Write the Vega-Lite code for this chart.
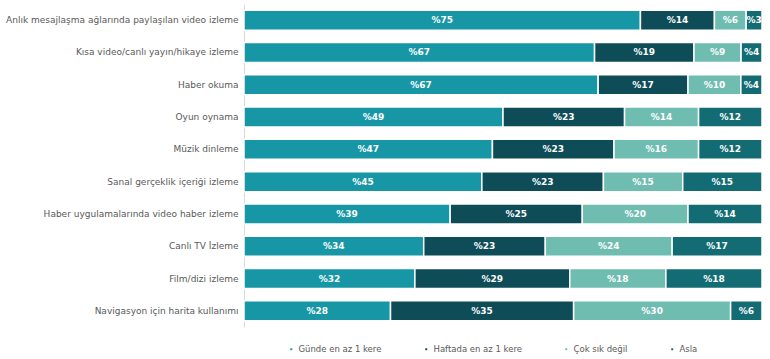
{
  "$schema": "https://vega.github.io/schema/vega-lite/v6.json",
  "autosize": "none",
  "width": 518,
  "height": 323,
  "padding": {"left": 244, "top": 4, "right": 8, "bottom": 32},
  "background": "white",
  "config": {"view": {"stroke": null}, "font": "DejaVu Sans", "locale": {"number": {"decimal": ",", "thousands": ".", "grouping": [3], "currency": ["%", ""]}}},
  "data": {"values": [
    {"c": "Anlık mesajlaşma ağlarında paylaşılan video izleme", "s": "Günde en az 1 kere", "o": 1, "v": 75},
    {"c": "Anlık mesajlaşma ağlarında paylaşılan video izleme", "s": "Haftada en az 1 kere", "o": 2, "v": 14},
    {"c": "Anlık mesajlaşma ağlarında paylaşılan video izleme", "s": "Çok sık değil", "o": 3, "v": 6},
    {"c": "Anlık mesajlaşma ağlarında paylaşılan video izleme", "s": "Asla", "o": 4, "v": 3},
    {"c": "Kısa video/canlı yayın/hikaye izleme", "s": "Günde en az 1 kere", "o": 1, "v": 67},
    {"c": "Kısa video/canlı yayın/hikaye izleme", "s": "Haftada en az 1 kere", "o": 2, "v": 19},
    {"c": "Kısa video/canlı yayın/hikaye izleme", "s": "Çok sık değil", "o": 3, "v": 9},
    {"c": "Kısa video/canlı yayın/hikaye izleme", "s": "Asla", "o": 4, "v": 4},
    {"c": "Haber okuma", "s": "Günde en az 1 kere", "o": 1, "v": 67},
    {"c": "Haber okuma", "s": "Haftada en az 1 kere", "o": 2, "v": 17},
    {"c": "Haber okuma", "s": "Çok sık değil", "o": 3, "v": 10},
    {"c": "Haber okuma", "s": "Asla", "o": 4, "v": 4},
    {"c": "Oyun oynama", "s": "Günde en az 1 kere", "o": 1, "v": 49},
    {"c": "Oyun oynama", "s": "Haftada en az 1 kere", "o": 2, "v": 23},
    {"c": "Oyun oynama", "s": "Çok sık değil", "o": 3, "v": 14},
    {"c": "Oyun oynama", "s": "Asla", "o": 4, "v": 12},
    {"c": "Müzik dinleme", "s": "Günde en az 1 kere", "o": 1, "v": 47},
    {"c": "Müzik dinleme", "s": "Haftada en az 1 kere", "o": 2, "v": 23},
    {"c": "Müzik dinleme", "s": "Çok sık değil", "o": 3, "v": 16},
    {"c": "Müzik dinleme", "s": "Asla", "o": 4, "v": 12},
    {"c": "Sanal gerçeklik içeriği izleme", "s": "Günde en az 1 kere", "o": 1, "v": 45},
    {"c": "Sanal gerçeklik içeriği izleme", "s": "Haftada en az 1 kere", "o": 2, "v": 23},
    {"c": "Sanal gerçeklik içeriği izleme", "s": "Çok sık değil", "o": 3, "v": 15},
    {"c": "Sanal gerçeklik içeriği izleme", "s": "Asla", "o": 4, "v": 15},
    {"c": "Haber uygulamalarında video haber izleme", "s": "Günde en az 1 kere", "o": 1, "v": 39},
    {"c": "Haber uygulamalarında video haber izleme", "s": "Haftada en az 1 kere", "o": 2, "v": 25},
    {"c": "Haber uygulamalarında video haber izleme", "s": "Çok sık değil", "o": 3, "v": 20},
    {"c": "Haber uygulamalarında video haber izleme", "s": "Asla", "o": 4, "v": 14},
    {"c": "Canlı TV İzleme", "s": "Günde en az 1 kere", "o": 1, "v": 34},
    {"c": "Canlı TV İzleme", "s": "Haftada en az 1 kere", "o": 2, "v": 23},
    {"c": "Canlı TV İzleme", "s": "Çok sık değil", "o": 3, "v": 24},
    {"c": "Canlı TV İzleme", "s": "Asla", "o": 4, "v": 17},
    {"c": "Film/dizi izleme", "s": "Günde en az 1 kere", "o": 1, "v": 32},
    {"c": "Film/dizi izleme", "s": "Haftada en az 1 kere", "o": 2, "v": 29},
    {"c": "Film/dizi izleme", "s": "Çok sık değil", "o": 3, "v": 18},
    {"c": "Film/dizi izleme", "s": "Asla", "o": 4, "v": 18},
    {"c": "Navigasyon için harita kullanımı", "s": "Günde en az 1 kere", "o": 1, "v": 28},
    {"c": "Navigasyon için harita kullanımı", "s": "Haftada en az 1 kere", "o": 2, "v": 35},
    {"c": "Navigasyon için harita kullanımı", "s": "Çok sık değil", "o": 3, "v": 30},
    {"c": "Navigasyon için harita kullanımı", "s": "Asla", "o": 4, "v": 6}
  ]},
  "encoding": {
    "y": {
      "field": "c", "type": "nominal", "sort": null, "title": null,
      "scale": {"paddingInner": 0.38, "paddingOuter": 0.19},
      "axis": {"ticks": false, "domainColor": "#d9d9d9", "labelColor": "#595959", "labelFontSize": 9, "labelPadding": 6, "labelLimit": 300}
    },
    "x": {"field": "v", "type": "quantitative", "stack": "normalize", "axis": null},
    "order": {"field": "o", "type": "ordinal"}
  },
  "layer": [
    {
      "mark": {"type": "bar", "stroke": "white", "strokeWidth": 1.5},
      "encoding": {
        "color": {
          "field": "s", "type": "nominal", "sort": ["Günde en az 1 kere", "Haftada en az 1 kere", "Çok sık değil", "Asla"],
          "scale": {"domain": ["Günde en az 1 kere", "Haftada en az 1 kere", "Çok sık değil", "Asla"], "range": ["#1797a6", "#0e4c57", "#6fbcb0", "#136c73"]},
          "legend": {"title": null, "orient": "none", "legendX": 43, "legendY": 341, "direction": "horizontal", "symbolType": "square", "symbolSize": 12, "labelFontSize": 8.5, "labelColor": "#595959", "columnPadding": 39, "symbolOffset": 0, "labelOffset": 3, "gridAlign": "none"}
        }
      }
    },
    {
      "mark": {"type": "text", "color": "white", "fontWeight": "bold", "fontSize": 9},
      "encoding": {
        "x": {"field": "v", "type": "quantitative", "stack": "normalize", "bandPosition": 0.5},
        "text": {"field": "v", "type": "quantitative", "format": "$d"}
      }
    }
  ]
}
